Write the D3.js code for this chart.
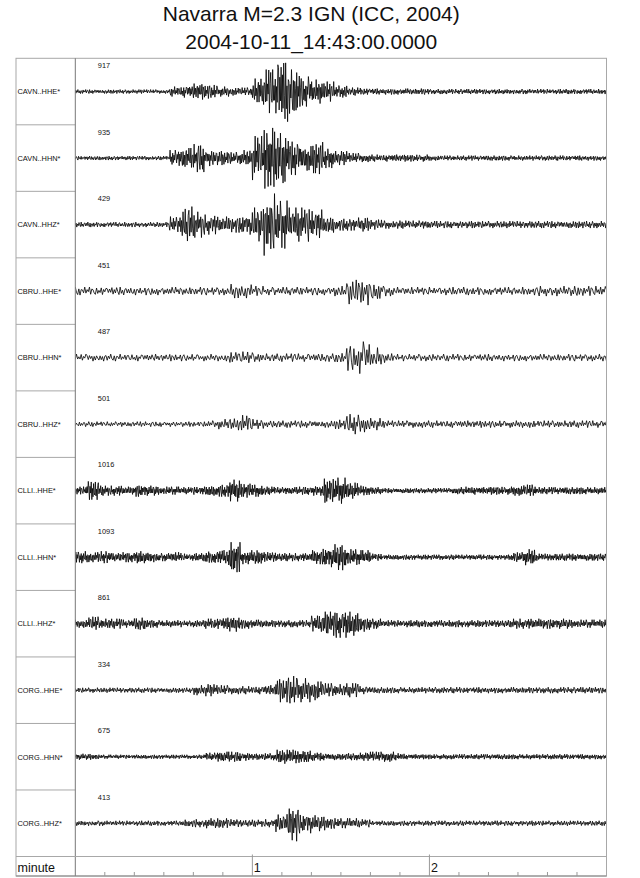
<!DOCTYPE html>
<html><head><meta charset="utf-8">
<script src="https://cdn.jsdelivr.net/npm/d3@7"></script>
<style>
body{margin:0;background:#fff;}
svg{display:block;font-family:"Liberation Sans",Arial,Helvetica,sans-serif;}
</style></head>
<body><svg id="c" width="640" height="878"></svg>
<script>
// ---- data ----
const title1 = "Navarra M=2.3 IGN (ICC, 2004)";
const title2 = "2004-10-11_14:43:00.0000";
const channels = ["CAVN..HHE*","CAVN..HHN*","CAVN..HHZ*","CBRU..HHE*","CBRU..HHN*","CBRU..HHZ*",
                  "CLLI..HHE*","CLLI..HHN*","CLLI..HHZ*","CORG..HHE*","CORG..HHN*","CORG..HHZ*"];
const maxCounts = [917,935,429,451,487,501,1016,1093,861,334,675,413];
const tickMinutes = [0,1,2,3];
const tickLabels = ["","1","2",""];
const axisLabel = "minute";
const binSeconds = 4; // envelope bins, 0..180 s
const rep = (v,n)=>Array(n).fill(v);
// peak amplitude per 4-s bin
const envCAVN_HHE = [...rep(2,8),5,6,8,7,5,4,4,13,22,33,22,15,12,10,6,4,3.5,3,3,3,3,3,...rep(2.5,15)];
const envCAVN_HHN = [...rep(2,8),8,10,14,8,7,6,8,22,33,25,17,13,16,10,7,5,4,...rep(3.5,5),...rep(2.5,15)];
const envCAVN_HHZ = [...rep(2.5,8),8,18,13,10,8,8,10,17,31,24,17,17,15,8,6,6,7,5,...rep(4,4),...rep(3.5,15)];
const envCBRU_HHE = [...rep(4,13),7,7,5,...rep(4,6),5,13,14,10,5,...rep(4,12),...rep(5,6)];
const envCBRU_HHN = [...rep(3.5,13),6,6,5,...rep(4,6),5,13,16,10,5,...rep(3.5,18)];
const envCBRU_HHZ = [...rep(2.5,11),3.5,5,6,9,5,...rep(3.5,6),5,10,8,6,...rep(3.5,19)];
const envCLLI_HHE = [4,10,5,5,4,6,5,4,4,3.5,4,5,6,11,7,6,4,3.5,3.5,4,5,12,13,8,5,3.5,2.5,2.5,2.5,2.5,2.5,2.5,3.5,4,3.5,4,4,5,6,3.5,3.5,3.5,3.5,3.5,3.5];
const envCLLI_HHN = [6,5,6,4,5,6,5,4,5,3.5,4,6,7,15,7,7,5,4,4,4,7,10,13,8,7,3.5,2.5,2.5,2.5,2.5,2.5,2.5,2.5,2.5,2.5,2.5,2.5,5,8,3.5,3.5,3.5,3.5,3.5,3.5];
const envCLLI_HHZ = [4,7,5,5,4,6,4,3.5,3.5,3,3.5,5,6,8,5,4,3.5,3.5,3.5,3.5,8,12,14,12,8,5,3.5,3.5,3.5,3.5,3.5,3.5,3.5,3.5,3.5,3.5,3.5,5,5,5,5,5,4,4,4];
const envCORG_HHE = [...rep(2.5,10),5,6,5,4,4,4,5,12,15,12,10,7,6,7,4,...rep(3,20)];
const envCORG_HHN = [3,3,...rep(2,9),4,5,5,4,3,3.5,7,7,6,4,3.5,3,3.5,4,5,5,3.5,...rep(2.5,17)];
const envCORG_HHZ = [...rep(2.5,9),3.5,4,5,5,4,3.5,3.5,4,9,18,10,8,7,5,5,4,...rep(2.5,20)];
const envelopes = [envCAVN_HHE,envCAVN_HHN,envCAVN_HHZ,envCBRU_HHE,envCBRU_HHN,envCBRU_HHZ,
                   envCLLI_HHE,envCLLI_HHN,envCLLI_HHZ,envCORG_HHE,envCORG_HHN,envCORG_HHZ];
// sampling step (s) of the drawn oscillation, per trace
const sampleStep = [0.22,0.22,0.25,0.4,0.4,0.35,0.2,0.2,0.22,0.25,0.2,0.25];
// fixed oscillation textures (hand-typed), scaled by the envelope
const texture = [0.55,-0.8,0.35,-0.45,0.9,-0.3,-0.6,0.7,-1.0,0.4,0.25,-0.65,0.85,-0.5,0.3,-0.2,0.75,-0.9,0.45,0.6,-0.35,-0.75,0.95,-0.4,0.2,-0.55,0.65,-0.85,0.3,-0.25,0.8,0.5,-0.7,0.4,-0.3,0.6,-0.95,0.35,-0.5,0.7,-0.15,-0.6,1.0,-0.45,0.3,-0.7,0.5];
const texture2 = [1.0,0.7,0.85,0.5,0.95,0.6,0.8,0.4,0.9,0.75,0.55,1.0,0.65,0.45,0.85,0.7,0.95,0.5,0.6,0.8,0.35,0.9,0.7,1.0,0.55,0.75,0.65,0.85,0.45];
const gain = 1.45;

// ---- layout ----
const svg = d3.select("#c");
const L = 16, D = 75.3, R = 606.5, T = 58.3, B = 856.5, AB = 876;
const n = channels.length;
const rowH = (B - T)/n;
const x = d3.scaleLinear().domain([0,3]).range([D,R]); // minutes
const xs = d3.scaleLinear().domain([0,180]).range([D,R]); // seconds
const rowScale = d3.scaleBand().domain(d3.range(n)).range([T,B]);

svg.append("text").attr("x",(L+R)/2).attr("y",21).attr("text-anchor","middle")
  .attr("font-size",21).attr("fill","#111").text(title1);
svg.append("text").attr("x",(L+R)/2).attr("y",49).attr("text-anchor","middle")
  .attr("font-size",21).attr("fill","#111").text(title2);

const g = svg.append("g");
const gridC = "#a8a8a8";
g.selectAll("line.sep").data(d3.range(1,n)).join("line")
  .attr("x1",L).attr("x2",D).attr("y1",d=>rowScale(d)).attr("y2",d=>rowScale(d))
  .attr("stroke",gridC).attr("stroke-width",1);

// traces
g.append("clipPath").attr("id","clip").append("rect")
  .attr("x",D).attr("y",T).attr("width",R-D).attr("height",B-T);
envelopes.forEach((env,i)=>{
  const y = d3.scaleLinear().domain([-rowH/2,rowH/2]).range([rowScale(i)+rowH, rowScale(i)]);
  const off = i*17, off2 = i*7;
  const times = d3.range(0,180+1e-9,sampleStep[i]);
  const vals = times.map((t,k)=>{
    const b = Math.min(env.length-1, Math.floor(t/binSeconds));
    const v = env[b]*gain*texture[(k+off)%texture.length]*texture2[(k+off2)%texture2.length];
    return [t, Math.max(-env[b], Math.min(env[b], v))];
  });
  g.append("path").datum(vals).attr("clip-path","url(#clip)")
    .attr("d", d3.line().x(d=>xs(d[0])).y(d=>y(d[1])))
    .attr("fill","none").attr("stroke","#000").attr("stroke-width",0.8).attr("stroke-linejoin","round");
});

g.selectAll("text.ch").data(channels).join("text")
  .attr("x",L+1.5).attr("y",(d,i)=>rowScale(i)+rowH/2+2.8)
  .attr("font-size",7.4).attr("fill","#111").text(d=>d);
g.selectAll("text.mx").data(maxCounts).join("text")
  .attr("x",D+22.5).attr("y",(d,i)=>rowScale(i)+10)
  .attr("font-size",7.4).attr("fill","#111").text(d=>d);

g.append("rect").attr("x",L).attr("y",T).attr("width",R-L).attr("height",AB-T)
  .attr("fill","none").attr("stroke",gridC).attr("stroke-width",1);
g.append("line").attr("x1",D).attr("x2",D).attr("y1",T).attr("y2",AB).attr("stroke","#777").attr("stroke-width",1);
g.append("line").attr("x1",L).attr("x2",R).attr("y1",B).attr("y2",B).attr("stroke",gridC).attr("stroke-width",1);
g.append("line").attr("x1",L).attr("x2",R).attr("y1",AB).attr("y2",AB).attr("stroke","#888").attr("stroke-width",1);

const minor = d3.range(0,3+1e-9,1/6).filter(m=>Math.abs(m-Math.round(m))>1e-6);
g.selectAll("line.mn").data(minor).join("line")
  .attr("x1",d=>x(d)).attr("x2",d=>x(d)).attr("y1",AB-4).attr("y2",AB)
  .attr("stroke","#999").attr("stroke-width",1);
g.selectAll("line.mj").data(tickMinutes.slice(1,3)).join("line")
  .attr("x1",d=>x(d)).attr("x2",d=>x(d)).attr("y1",B-2).attr("y2",AB)
  .attr("stroke","#999").attr("stroke-width",1);
g.selectAll("text.tk").data(tickMinutes).join("text")
  .attr("x",d=>x(d)+1.5).attr("y",AB-4).attr("font-size",12.5).attr("fill","#111")
  .text((d,i)=>tickLabels[i]);
g.append("text").attr("x",L+1.5).attr("y",AB-4).attr("font-size",12.5).attr("fill","#111").text(axisLabel);
</script></body></html>
